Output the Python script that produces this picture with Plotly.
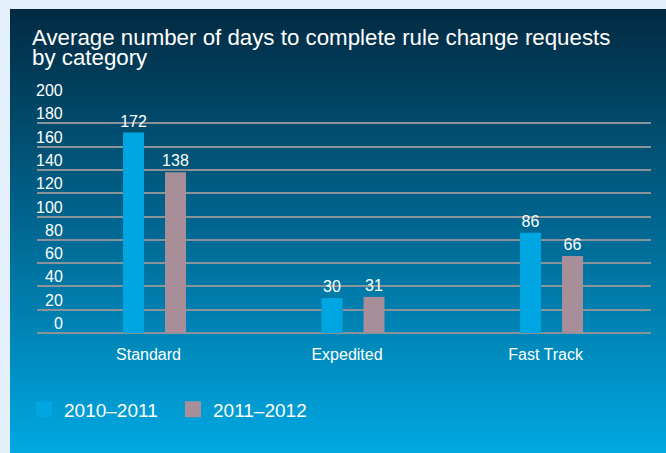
import base64, struct, zlib
import plotly.graph_objects as go

# ---- data ----
categories = ["Standard", "Expedited", "Fast Track"]
series_names = ["2010–2011", "2011–2012"]
values_2010_2011 = [172, 30, 86]
values_2011_2012 = [138, 31, 66]
y_ticks = [0, 20, 40, 60, 80, 100, 120, 140, 160, 180, 200]
title_lines = ["Average number of days to complete rule change requests", "by category"]

colors = ["#00A6E2", "#A88E98"]

W, H = 666, 453
L, R, T, B = 37, 15, 100, 120  # plot area px: x 37..651, y 100..333
PW, PH = W - L - R, H - T - B


def px_x(p):
    return (p - L) / PW


def px_y(p):
    return (H - B - p) / PH


# ---- gradient background image (panel) ----
def gradient_png(h, stops):
    rows = []
    for i in range(h):
        t = i / (h - 1)
        for j in range(len(stops) - 1):
            t0, c0 = stops[j]
            t1, c1 = stops[j + 1]
            if t0 <= t <= t1:
                f = (t - t0) / (t1 - t0) if t1 > t0 else 0
                c = [round(c0[k] + (c1[k] - c0[k]) * f) for k in range(3)]
                break
        rows.append(b"\x00" + bytes(c) * 2)
    raw = b"".join(rows)

    def chunk(tag, data):
        return struct.pack(">I", len(data)) + tag + data + struct.pack(">I", zlib.crc32(tag + data) & 0xffffffff)

    png = b"\x89PNG\r\n\x1a\n" + chunk(b"IHDR", struct.pack(">IIBBBBB", 2, h, 8, 2, 0, 0, 0))
    png += chunk(b"IDAT", zlib.compress(raw, 9)) + chunk(b"IEND", b"")
    return "data:image/png;base64," + base64.b64encode(png).decode()


grad = gradient_png(444, [(0.0, (2, 42, 66)), (0.5, (0, 104, 146)), (1.0, (0, 168, 226))])

FONT = "Liberation Sans, Arial, sans-serif"

fig = go.Figure()
for name, vals, col in zip(series_names, [values_2010_2011, values_2011_2012], colors):
    fig.add_trace(go.Bar(
        x=categories, y=vals, name=name, marker=dict(color=col, line=dict(width=0)),
        text=[str(v) for v in vals], textposition="outside", cliponaxis=False,
        constraintext="none",
        textfont=dict(color="white", size=16, family=FONT),
        showlegend=False,
    ))
    fig.add_trace(go.Scatter(
        x=[None], y=[None], mode="markers", name=name,
        marker=dict(symbol="square", size=17, color=col, line=dict(width=0)),
    ))

annotations = []
for v in y_ticks:
    annotations.append(dict(
        x=px_x(65), xref="paper", y=v, yref="y", xanchor="right", yanchor="bottom",
        text=str(v), showarrow=False, yshift=-1,
        font=dict(color="white", size=16, family=FONT),
    ))
for i, line in enumerate(title_lines):
    annotations.append(dict(
        x=px_x(30), xref="paper", y=px_y(38 + 20 * i), yref="paper",
        xanchor="left", yanchor="middle", text=line, showarrow=False,
        font=dict(color="white", size=22.3, family=FONT),
    ))

fig.update_layout(
    width=W, height=H,
    margin=dict(l=L, r=R, t=T, b=B, pad=0),
    paper_bgcolor="#E4F0FB",
    plot_bgcolor="rgba(0,0,0,0)",
    barmode="group", bargap=0.577, bargroupgap=0.5,
    font=dict(family=FONT, color="white"),
    images=[dict(
        source=grad, xref="paper", yref="paper",
        x=px_x(10), y=px_y(9), sizex=px_x(666) - px_x(10), sizey=px_y(9) - px_y(453),
        xanchor="left", yanchor="top", sizing="stretch", layer="below",
    )],
    xaxis=dict(
        type="category", range=[-0.592, 2.501], showgrid=False, zeroline=False,
        showline=False, ticks="", ticklabelstandoff=10, ticklabelshift=-6,
        tickfont=dict(size=16, color="white", family=FONT),
    ),
    yaxis=dict(
        range=[0, 200], tickvals=y_ticks, showticklabels=False, showgrid=True,
        gridcolor="#8A9399", gridwidth=1.5, zeroline=True, zerolinecolor="#8A9399",
        zerolinewidth=1.5, showline=False, fixedrange=True,
    ),
    legend=dict(
        orientation="h", x=px_x(24), xanchor="left", y=px_y(409.5), yanchor="middle",
        font=dict(size=19, color="white", family=FONT),
        bgcolor="rgba(0,0,0,0)", entrywidth=104, entrywidthmode="pixels",
        itemclick=False, itemdoubleclick=False,
    ),
    annotations=annotations,
    showlegend=True,
)

fig.write_html("out.html", config={"displayModeBar": False},
               post_script="document.body.style.margin='0';")
